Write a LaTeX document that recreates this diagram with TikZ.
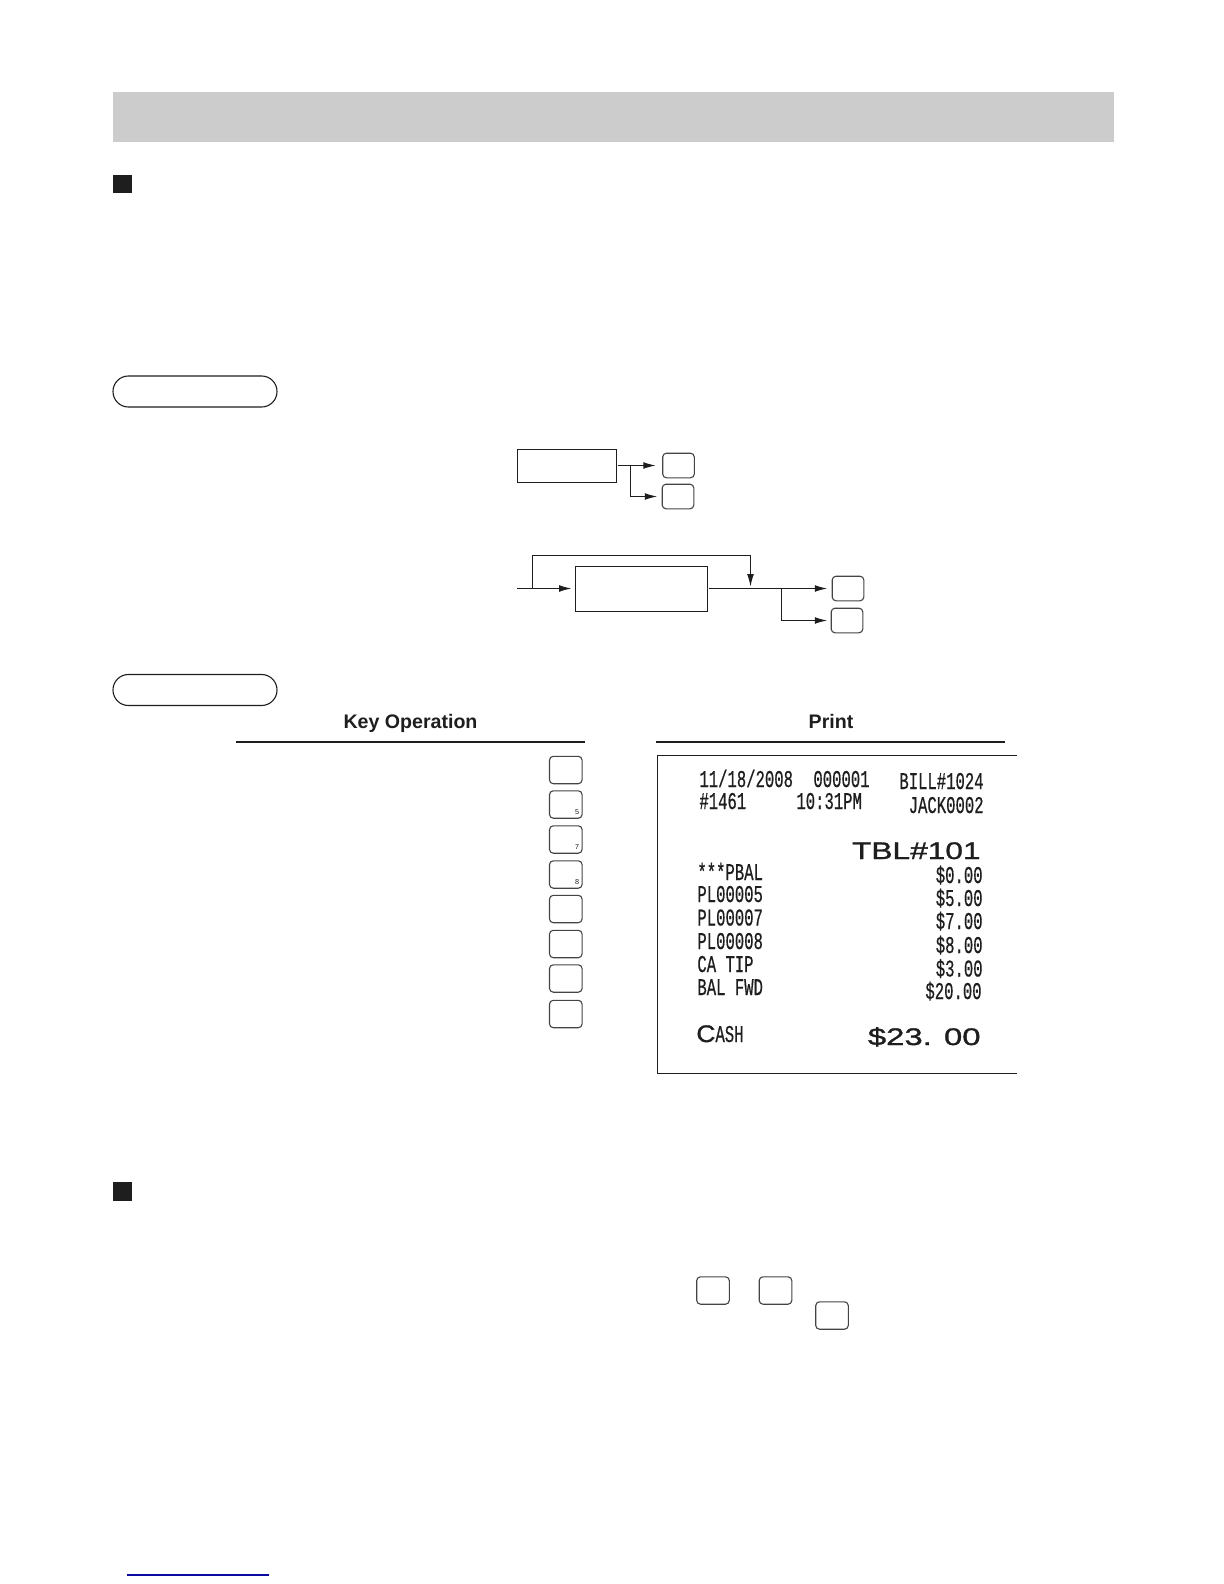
\documentclass[tikz,border=0pt]{standalone}
\usepackage{fontspec}
\setmainfont{Liberation Sans}
\usetikzlibrary{arrows.meta}
\newfontfamily\rcptfont[FakeStretch=0.65,FakeBold=0.5]{Liberation Mono}
\newfontfamily\rcptwide[FakeStretch=1.32,FakeBold=1.2]{Liberation Sans}
\newfontfamily\rcptc[FakeStretch=1.1,FakeBold=1.2]{Liberation Sans}
\newfontfamily\rcptcash[FakeStretch=1.37,FakeBold=1.2]{Liberation Sans}
\definecolor{ink}{HTML}{1E1E1E}
\definecolor{barfill}{HTML}{CCCCCC}
\definecolor{keyline}{HTML}{444444}
\definecolor{linkblue}{HTML}{0A0AA0}
\tikzset{
  x=0.5pt,y=-0.5pt,
  keybox/.style={draw=keyline,line width=0.55pt,rounded corners=1.9pt,minimum width=16.3pt,minimum height=13.7pt,inner sep=0pt,outer sep=0pt,fill=white},
  smallkey/.style={keybox,minimum width=15.8pt,minimum height=12.3pt},
  entrybox/.style={draw=ink,line width=0.55pt,inner sep=0pt,outer sep=0pt},
  pill/.style={draw=ink,line width=0.55pt,rounded corners=7.7pt,minimum width=82pt,minimum height=15.5pt,inner sep=0pt,outer sep=0pt},
  conn/.style={draw=ink,line width=0.55pt,-{Latex[length=6.2pt,width=3.4pt]}},
  plainconn/.style={draw=ink,line width=0.55pt},
  rule/.style={draw=ink,line width=1pt},
  head/.style={font=\bfseries\fontsize{9.8}{12}\selectfont,text=ink,inner sep=0pt,anchor=base},
  sqmark/.style={fill=ink,minimum size=9.3pt,inner sep=0pt,outer sep=0pt},
  rcpt/.style={font=\rcptfont\fontsize{12}{12}\selectfont,text=ink,inner sep=0pt,anchor=base west},
  rcptr/.style={font=\rcptfont\fontsize{12}{12}\selectfont,text=ink,inner sep=0pt,anchor=base east},
  keydigit/.style={font=\fontsize{3.6}{4}\selectfont,text=ink,inner sep=0pt},
}
\begin{document}
\begin{tikzpicture}
\useasboundingbox[fill=white] (0,0) rectangle (1224,1584);
% header bar and section marks
\node[fill=barfill,minimum width=500.5pt,minimum height=25pt,inner sep=0pt,outer sep=0pt] (bar) at (613.5,117) {};
\node[sqmark] (sq1) at (122.5,184) {};
\node[sqmark] (sq2) at (122.5,1191.5) {};
% pills
\node[pill] (p1) at (195,391.5) {};
\node[pill] (p2) at (195,690) {};
% first diagram
\node[entrybox,minimum width=49.5pt,minimum height=16.5pt] (b1) at (567,466) {};
\node[smallkey] (k1) at (678.5,465.5) {};
\node[smallkey] (k2) at (678,496.5) {};
\coordinate (j1) at (630.5,465.5);
\draw[conn,shorten <=0.5pt,shorten >=3.5pt] (j1 -| b1.east) -- (k1.west);
\draw[conn,shorten >=2.5pt] (j1) |- (k2.west);
% second diagram
\node[entrybox,minimum width=66pt,minimum height=22.5pt] (b2) at (641.5,589) {};
\node[smallkey] (k3) at (848,588.5) {};
\node[smallkey] (k4) at (847,620.5) {};
\coordinate (in) at (517,588.5);
\coordinate (j2) at (532.5,588.5);
\coordinate (up) at (532.5,555.5);
\coordinate (over) at (750.5,555.5);
\coordinate (down) at (750.5,588.5);
\coordinate (j3) at (781.5,588.5);
\draw[conn,shorten >=2pt] (in) -- (in -| b2.west);
\draw[conn,shorten <=0.5pt,shorten >=2.5pt] (in -| b2.east) -- (k3.west);
\draw[conn,shorten >=1pt] (j2) -- (up) -- (over) -- (down);
\draw[conn,shorten >=2pt] (j3) |- (k4.west);
% example headers
\node[head] (h1) at (410.5,728) {Key Operation};
\node[head] (h2) at (831,728) {Print};
\coordinate (r1a) at (236,742); \coordinate (r1b) at (585,742);
\coordinate (r2a) at (656,742); \coordinate (r2b) at (1005,742);
\draw[rule] (r1a) -- (r1b);
\draw[rule] (r2a) -- (r2b);
% key column
\node[keybox] (c1) at (565.8,770) {};
\node[keybox] (c2) at (565.8,804.5) {};
\node[keybox] (c3) at (565.8,839.5) {};
\node[keybox] (c4) at (565.8,874.5) {};
\node[keybox] (c5) at (565.8,909) {};
\node[keybox] (c6) at (565.8,944) {};
\node[keybox] (c7) at (565.8,978.5) {};
\node[keybox] (c8) at (565.8,1014) {};
\node[keydigit] (d5) at (577,812) {5};
\node[keydigit] (d7) at (577,847) {7};
\node[keydigit] (d8) at (577,882) {8};
% receipt frame
\coordinate (fa) at (1017,755.5); \coordinate (fb) at (657.5,755.5);
\coordinate (fc) at (657.5,1073.5); \coordinate (fd) at (1017,1073.5);
\draw[plainconn,line width=0.42pt] (fa) -- (fb) -- (fc) -- (fd);
% receipt text
\node[rcpt] (t1) at (699,787) {11/18/2008};
\node[rcpt] (t2) at (813,787) {000001};
\node[rcptr] (t3) at (984,789) {BILL\#1024};
\node[rcpt] (t4) at (699,809) {\#1461};
\node[rcpt] (t5) at (796,809) {10:31PM};
\node[rcptr] (t6) at (984,813) {JACK0002};
\node[rcptr,font=\rcptwide\fontsize{12}{12}\selectfont] (t7) at (981,859) {TBL\#101};
\node[rcpt] (l1) at (697,880) {***PBAL};
\node[rcpt] (l2) at (697,902) {PL00005};
\node[rcpt] (l3) at (697,925.5) {PL00007};
\node[rcpt] (l4) at (697,949) {PL00008};
\node[rcpt] (l5) at (697,972) {CA TIP};
\node[rcpt] (l6) at (697,995) {BAL FWD};
\node[rcptr] (a1) at (983,883) {\$0.00};
\node[rcptr] (a2) at (983,906) {\$5.00};
\node[rcptr] (a3) at (983,929) {\$7.00};
\node[rcptr] (a4) at (983,953) {\$8.00};
\node[rcptr] (a5) at (983,976.5) {\$3.00};
\node[rcptr] (a6) at (982,999) {\$20.00};
\node[rcpt] (t8) at (696,1042) {{\rcptc C}ASH};
\node[rcptr,font=\rcptcash\fontsize{12}{12}\selectfont] (t9) at (981,1045) {\$23. 00};
% inline keys in the lower section
\node[keybox] (i1) at (713,1290.5) {};
\node[keybox] (i2) at (775.5,1290.5) {};
\node[keybox] (i3) at (832,1315.5) {};
% footer link rule
\coordinate (la) at (127,1575); \coordinate (lb) at (269,1575);
\draw[draw=linkblue,line width=0.65pt] (la) -- (lb);
\end{tikzpicture}
\end{document}
